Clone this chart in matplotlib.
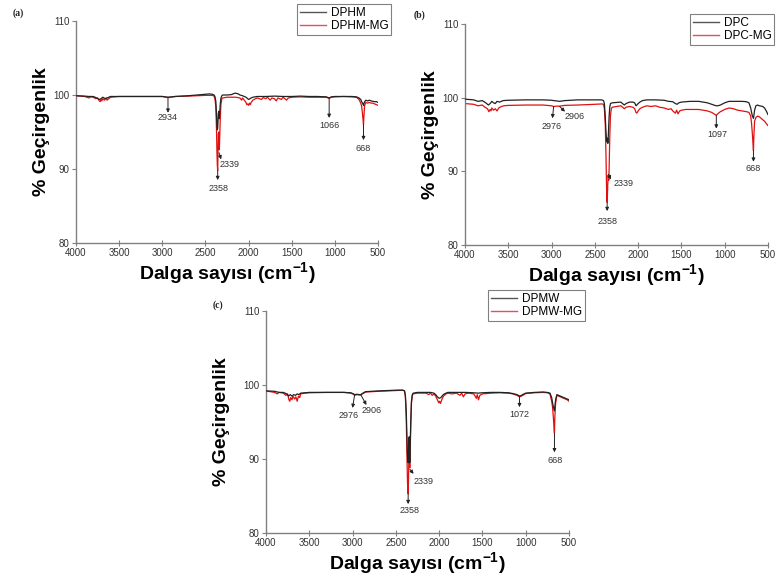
import matplotlib
matplotlib.use("Agg")
import matplotlib.pyplot as plt

plt.rcParams['font.family'] = ['Liberation Sans', 'DejaVu Sans']
plt.rcParams['mathtext.fontset'] = 'custom'
plt.rcParams['mathtext.rm'] = 'Liberation Sans'
plt.rcParams['mathtext.bf'] = 'Liberation Sans:bold'

# ---------------- data (wavenumber cm-1, % transmittance) ----------------
a_black = [(4000, 99.9), (3900, 99.85), (3850, 99.8), (3800, 99.8), (3760, 99.6), (3730, 99.4), (3710, 99.5),
           (3690, 99.7), (3660, 99.5), (3640, 99.6), (3620, 99.7), (3600, 99.8), (3500, 99.8), (3300, 99.8),
           (3100, 99.8), (3000, 99.8), (2934, 99.7), (2850, 99.8), (2700, 99.9), (2600, 100.0), (2500, 100.1),
           (2450, 100.15), (2420, 100.1), (2400, 100.0), (2390, 99.8), (2380, 99.2), (2372, 97.5), (2366, 95.8),
           (2362, 95.3), (2358, 95.5), (2354, 96.5), (2350, 97.5), (2346, 97.8), (2342, 97.2), (2339, 96.8),
           (2335, 97.5), (2328, 98.8), (2320, 99.6), (2310, 99.9), (2300, 100.0), (2250, 100.0), (2200, 100.05),
           (2170, 100.2), (2150, 100.25), (2120, 100.15), (2100, 100.0), (2070, 99.9), (2050, 99.8), (2030, 99.7),
           (2010, 99.5), (2000, 99.4), (1990, 99.45), (1970, 99.6), (1950, 99.7), (1900, 99.8), (1800, 99.8),
           (1700, 99.85), (1600, 99.8), (1500, 99.8), (1400, 99.85), (1300, 99.8), (1200, 99.8), (1100, 99.75),
           (1066, 99.6), (1040, 99.75), (1000, 99.8), (900, 99.8), (800, 99.8), (750, 99.75), (720, 99.6),
           (700, 99.4), (690, 99.1), (680, 98.9), (672, 98.7), (668, 98.6), (664, 98.8), (655, 99.1),
           (640, 99.3), (620, 99.2), (600, 99.3), (580, 99.2), (560, 99.15), (540, 99.1), (520, 99.1), (500, 99.0)]
a_red = [(4000, 99.9), (3900, 99.8), (3850, 99.6), (3830, 99.75), (3800, 99.7), (3770, 99.5), (3750, 99.6),
         (3730, 99.2), (3720, 99.1), (3710, 99.4), (3700, 99.2), (3690, 99.5), (3670, 99.3), (3650, 99.6),
         (3640, 99.3), (3620, 99.5), (3600, 99.7), (3550, 99.75), (3500, 99.8), (3300, 99.8), (3100, 99.8),
         (3000, 99.8), (2934, 99.65), (2850, 99.8), (2700, 99.85), (2600, 99.9), (2500, 99.95), (2420, 99.95),
         (2400, 99.85), (2390, 99.5), (2380, 98.5), (2372, 95.5), (2366, 92.0), (2362, 90.5), (2358, 89.8),
         (2354, 92.5), (2350, 94.8), (2346, 95.0), (2342, 93.2), (2339, 92.6), (2335, 94.0), (2328, 96.8),
         (2320, 98.8), (2310, 99.5), (2300, 99.6), (2250, 99.7), (2200, 99.7), (2150, 99.7), (2100, 99.6),
         (2080, 99.3), (2070, 99.6), (2050, 99.3), (2030, 99.0), (2020, 98.7), (2010, 98.8), (2000, 98.6),
         (1990, 98.9), (1980, 98.7), (1970, 99.0), (1950, 99.3), (1920, 99.5), (1900, 99.6), (1850, 99.4),
         (1830, 99.65), (1800, 99.5), (1780, 99.7), (1750, 99.3), (1730, 99.6), (1700, 99.5), (1680, 99.2),
         (1660, 99.6), (1620, 99.4), (1600, 99.7), (1560, 99.3), (1540, 99.6), (1500, 99.7), (1400, 99.75),
         (1300, 99.7), (1200, 99.7), (1100, 99.7), (1066, 99.55), (1040, 99.7), (1000, 99.75), (900, 99.8),
         (800, 99.75), (750, 99.7), (720, 99.4), (700, 98.9), (690, 98.5), (680, 97.5), (672, 96.5),
         (668, 96.0), (664, 97.0), (655, 98.6), (640, 99.0), (620, 98.9), (600, 99.0), (580, 98.9),
         (560, 98.9), (540, 98.8), (520, 98.7), (500, 98.6)]

b_black = [(4000, 99.8), (3900, 99.7), (3850, 99.5), (3800, 99.6), (3760, 99.3), (3730, 99.0), (3710, 99.2),
           (3690, 99.5), (3670, 99.3), (3650, 99.2), (3630, 99.5), (3600, 99.4), (3560, 99.6), (3500, 99.65),
           (3300, 99.7), (3100, 99.7), (3000, 99.65), (2976, 99.6), (2940, 99.55), (2906, 99.5), (2850, 99.6),
           (2700, 99.7), (2500, 99.7), (2420, 99.7), (2400, 99.6), (2390, 99.2), (2380, 97.5), (2372, 95.5),
           (2366, 94.3), (2362, 94.0), (2358, 94.3), (2354, 94.5), (2350, 93.8), (2346, 94.5), (2342, 95.5),
           (2339, 96.5), (2335, 97.5), (2328, 98.7), (2320, 99.2), (2300, 99.3), (2250, 99.35), (2200, 99.4),
           (2180, 99.2), (2160, 99.0), (2140, 99.2), (2100, 99.4), (2060, 99.4), (2040, 99.3), (2025, 98.9),
           (2015, 99.0), (2000, 99.2), (1980, 99.4), (1950, 99.6), (1900, 99.7), (1800, 99.7), (1700, 99.65),
           (1650, 99.5), (1600, 99.45), (1570, 99.2), (1550, 99.1), (1530, 99.3), (1500, 99.4), (1400, 99.5),
           (1300, 99.5), (1250, 99.4), (1200, 99.3), (1150, 99.1), (1100, 98.9), (1080, 98.9), (1050, 99.0),
           (1000, 99.3), (950, 99.5), (900, 99.5), (850, 99.5), (800, 99.5), (750, 99.45), (720, 99.3),
           (700, 98.6), (690, 98.0), (680, 97.5), (672, 97.3), (668, 97.2), (664, 97.5), (655, 98.3),
           (640, 98.9), (620, 99.0), (600, 98.9), (580, 98.85), (560, 98.8), (540, 98.6), (520, 98.2), (500, 97.7)]
b_red = [(4000, 99.2), (3900, 99.1), (3850, 98.9), (3800, 99.0), (3770, 98.7), (3740, 98.5), (3725, 98.1),
         (3710, 98.4), (3700, 98.2), (3690, 98.6), (3670, 98.3), (3650, 98.5), (3630, 98.2), (3610, 98.6),
         (3580, 98.8), (3550, 98.9), (3500, 98.95), (3300, 99.0), (3100, 99.0), (3000, 98.9), (2976, 98.8),
         (2940, 98.85), (2906, 98.85), (2850, 98.95), (2700, 99.0), (2500, 99.1), (2420, 99.15), (2400, 99.1),
         (2390, 98.5), (2380, 96.5), (2372, 92.5), (2366, 88.5), (2362, 86.5), (2358, 85.8), (2354, 87.0),
         (2350, 88.5), (2346, 89.5), (2342, 89.0), (2339, 88.8), (2335, 90.5), (2328, 94.5), (2320, 97.5),
         (2310, 98.5), (2300, 98.7), (2250, 98.8), (2200, 98.9), (2180, 98.7), (2160, 98.5), (2140, 98.7),
         (2100, 98.8), (2060, 98.7), (2040, 98.5), (2025, 98.0), (2015, 97.9), (2000, 98.2), (1980, 98.5),
         (1950, 98.7), (1900, 98.9), (1850, 98.8), (1800, 98.9), (1750, 98.7), (1700, 98.6), (1650, 98.4),
         (1620, 98.5), (1600, 98.2), (1570, 97.9), (1555, 98.3), (1540, 97.8), (1520, 98.2), (1500, 98.3),
         (1450, 98.4), (1400, 98.4), (1300, 98.4), (1250, 98.3), (1200, 98.2), (1150, 98.0), (1110, 97.7),
         (1097, 97.6), (1080, 97.8), (1050, 98.1), (1000, 98.4), (950, 98.6), (900, 98.5), (850, 98.3),
         (800, 98.2), (750, 98.1), (720, 98.0), (700, 97.5), (690, 96.5), (680, 95.0), (672, 93.5),
         (668, 92.8), (664, 94.5), (655, 96.8), (640, 97.3), (620, 97.5), (600, 97.4), (580, 97.2),
         (560, 97.0), (540, 96.8), (520, 96.5), (500, 96.2)]

c_black = [(4000, 99.2), (3900, 99.15), (3850, 99.0), (3800, 99.0), (3760, 98.8), (3740, 98.5), (3720, 98.7),
           (3700, 98.5), (3680, 98.7), (3660, 98.6), (3640, 98.8), (3620, 98.7), (3600, 98.9), (3550, 98.95),
           (3500, 99.0), (3300, 99.0), (3100, 99.0), (3020, 98.95), (2990, 98.8), (2976, 98.7), (2950, 98.75),
           (2920, 98.7), (2906, 98.7), (2880, 98.9), (2850, 99.1), (2700, 99.2), (2500, 99.3), (2420, 99.3),
           (2400, 99.2), (2390, 98.6), (2380, 96.5), (2372, 93.0), (2366, 90.5), (2362, 89.8), (2358, 89.5),
           (2354, 90.5), (2350, 92.5), (2346, 93.0), (2342, 91.0), (2339, 89.5), (2335, 91.5), (2328, 95.0),
           (2320, 97.8), (2310, 98.7), (2300, 98.9), (2250, 99.0), (2200, 99.0), (2150, 99.0), (2100, 99.0),
           (2060, 98.9), (2040, 98.7), (2020, 98.4), (2000, 98.2), (1980, 98.3), (1960, 98.6), (1940, 98.8),
           (1900, 99.0), (1800, 99.0), (1700, 99.0), (1600, 98.95), (1550, 98.9), (1500, 98.95), (1400, 99.0),
           (1300, 99.0), (1200, 98.95), (1150, 98.85), (1100, 98.7), (1072, 98.5), (1050, 98.6), (1020, 98.8),
           (1000, 98.9), (900, 99.0), (800, 99.05), (750, 99.0), (720, 98.9), (700, 98.3), (690, 97.6),
           (680, 97.0), (672, 96.7), (668, 96.5), (664, 97.0), (655, 98.0), (640, 98.7), (620, 98.6),
           (600, 98.5), (580, 98.4), (560, 98.3), (540, 98.2), (520, 98.1), (500, 98.0)]
c_red = [(4000, 99.2), (3900, 99.0), (3870, 98.8), (3850, 99.0), (3800, 98.9), (3770, 98.6), (3750, 98.8),
         (3735, 98.0), (3725, 97.8), (3715, 98.3), (3700, 98.0), (3690, 98.5), (3670, 98.1), (3655, 98.4),
         (3640, 97.8), (3625, 98.5), (3610, 98.3), (3600, 98.8), (3550, 98.9), (3500, 98.95), (3300, 99.0),
         (3100, 99.0), (3020, 98.9), (2990, 98.75), (2976, 98.6), (2950, 98.7), (2920, 98.65), (2906, 98.65),
         (2880, 98.85), (2850, 99.05), (2700, 99.15), (2500, 99.25), (2420, 99.3), (2400, 99.2), (2390, 98.4),
         (2380, 95.5), (2372, 90.5), (2366, 87.0), (2362, 85.8), (2358, 85.3), (2354, 87.0), (2350, 90.0),
         (2346, 91.0), (2342, 89.5), (2339, 88.8), (2335, 90.5), (2328, 94.5), (2320, 97.5), (2310, 98.6),
         (2300, 98.8), (2250, 98.9), (2200, 98.9), (2150, 98.9), (2120, 98.7), (2100, 98.9), (2080, 98.6),
         (2060, 98.8), (2040, 98.5), (2020, 98.0), (2005, 97.6), (1995, 97.8), (1985, 97.5), (1970, 98.0),
         (1950, 98.5), (1920, 98.8), (1900, 98.9), (1850, 98.8), (1800, 98.9), (1760, 98.6), (1740, 98.9),
         (1720, 98.4), (1700, 98.8), (1660, 98.9), (1600, 98.8), (1570, 98.2), (1560, 98.7), (1545, 98.0),
         (1530, 98.6), (1500, 98.8), (1400, 98.9), (1300, 98.95), (1200, 98.9), (1150, 98.8), (1100, 98.6),
         (1072, 98.4), (1050, 98.5), (1020, 98.7), (1000, 98.85), (900, 98.95), (800, 99.0), (750, 98.95),
         (720, 98.8), (700, 97.8), (690, 97.0), (680, 95.5), (672, 94.0), (668, 93.5), (664, 95.5),
         (655, 97.5), (640, 98.6), (620, 98.5), (600, 98.4), (580, 98.3), (560, 98.2), (540, 98.1),
         (520, 98.0), (500, 97.8)]

# annotations: label, (arrow tail x, y), (arrow head x, y), (label x, y)
a_notes = [("2934", (2934, 99.7), (2934, 97.6), (2934, 96.9)),
           ("2358", (2358, 89.8), (2358, 88.5), (2350, 87.4)),
           ("2339", (2342, 92.2), (2318, 91.3), (2215, 90.6)),
           ("1066", (1066, 99.5), (1066, 96.9), (1066, 95.9)),
           ("668", (668, 96.0), (668, 93.9), (668, 92.8))]
b_notes = [("2976", (2976, 98.8), (2990, 97.2), (3000, 96.1)),
           ("2906", (2906, 98.8), (2845, 98.1), (2730, 97.4)),
           ("2358", (2358, 85.8), (2358, 84.6), (2358, 83.2)),
           ("2339", (2342, 89.6), (2315, 88.9), (2170, 88.3)),
           ("1097", (1097, 97.6), (1097, 95.8), (1090, 95.0)),
           ("668", (668, 92.8), (668, 91.3), (672, 90.4))]
c_notes = [("2976", (2976, 98.7), (3000, 96.9), (3045, 95.9)),
           ("2906", (2906, 98.7), (2840, 97.3), (2780, 96.6)),
           ("2358", (2358, 85.3), (2358, 83.9), (2338, 83.0)),
           ("2339", (2338, 88.6), (2295, 88.0), (2185, 87.0)),
           ("1072", (1072, 98.5), (1072, 97.0), (1075, 96.0)),
           ("668", (668, 93.5), (668, 90.9), (665, 89.8))]

names = [("DPHM", "DPHM-MG"), ("DPC", "DPC-MG"), ("DPMW", "DPMW-MG")]
panel_tags = ["(a)", "(b)", "(c)"]
x_ticks = [4000, 3500, 3000, 2500, 2000, 1500, 1000, 500]
y_ticks = [80, 90, 100, 110]

# ---------------- figure ----------------
W, H = 776, 576
fig = plt.figure(figsize=(W / 100, H / 100), dpi=100)
fig.patch.set_facecolor('white')


def fr(x0, y0, x1, y1):
    return [x0 / W, 1 - y1 / H, (x1 - x0) / W, (y1 - y0) / H]


axes_px = [(76, 21, 378, 243), (465, 24, 768, 245), (266, 311, 569, 533)]
legend_px = [(297, 4), (690, 14), (488, 290)]
tag_px = [(18, 13), (420, 15), (218, 305)]
ylab_pad = [2.5, 2.5, 10]
series = [(a_black, a_red, a_notes), (b_black, b_red, b_notes), (c_black, c_red, c_notes)]

GRAY = '#808080'
for i in range(3):
    ax = fig.add_axes(fr(*axes_px[i]))
    blk, red, notes = series[i]
    xb, yb = zip(*blk)
    xr, yr = zip(*red)
    ax.plot(xb, yb, color='#222222', lw=0.9, label=names[i][0], zorder=3)
    ax.plot(xr, yr, color='#e01010', lw=0.9, label=names[i][1], zorder=2)
    ax.set_xlim(4000, 500)
    ax.set_ylim(80, 110)
    ax.set_xticks(x_ticks)
    ax.set_yticks(y_ticks)
    for s in ['top', 'right']:
        ax.spines[s].set_visible(False)
    for s in ['left', 'bottom']:
        ax.spines[s].set_color(GRAY)
        ax.spines[s].set_linewidth(1.0)
    ax.tick_params(axis='both', colors=GRAY, labelcolor='#333333', labelsize=7, length=3, width=0.8, pad=1.5)
    ax.tick_params(axis='x', direction='inout', length=4)
    ax.set_ylabel('% Geçirgenlik', fontsize=14, fontweight='bold', labelpad=ylab_pad[i])
    ax.set_xlabel('Dalga sayısı (cm$^{\\mathbf{-1}}$)', fontsize=14, fontweight='bold', labelpad=2)
    for lab, tail, head, lpos in notes:
        ax.annotate('', xy=head, xytext=tail,
                    arrowprops=dict(arrowstyle='-|>', color='#222222', lw=0.7,
                                    mutation_scale=5, shrinkA=0, shrinkB=0), zorder=4)
        ax.text(lpos[0], lpos[1], lab, fontsize=6.5, color='#333333', ha='center', va='center', zorder=5)
    lx, ly = legend_px[i]
    leg = ax.legend(loc='upper left', bbox_to_anchor=(lx / W, 1 - ly / H), bbox_transform=fig.transFigure,
                    fontsize=8.5, frameon=True, fancybox=False, edgecolor=GRAY, framealpha=1,
                    borderpad=0.25, handlelength=2.2, handletextpad=0.4, labelspacing=0.1, borderaxespad=0)
    leg.get_frame().set_linewidth(0.8)
    for ln in leg.get_lines():
        ln.set_linewidth(1.0)
    leg.get_lines()[0].set_color('#555555')
    leg.get_lines()[1].set_color('#e05060')
    tx, ty = tag_px[i]
    fig.text(tx / W, 1 - ty / H, panel_tags[i], fontsize=7, fontweight='bold', family='Liberation Serif',
             ha='center', va='center', color='#222222')

fig.savefig('out.png', dpi=100, facecolor='white')
